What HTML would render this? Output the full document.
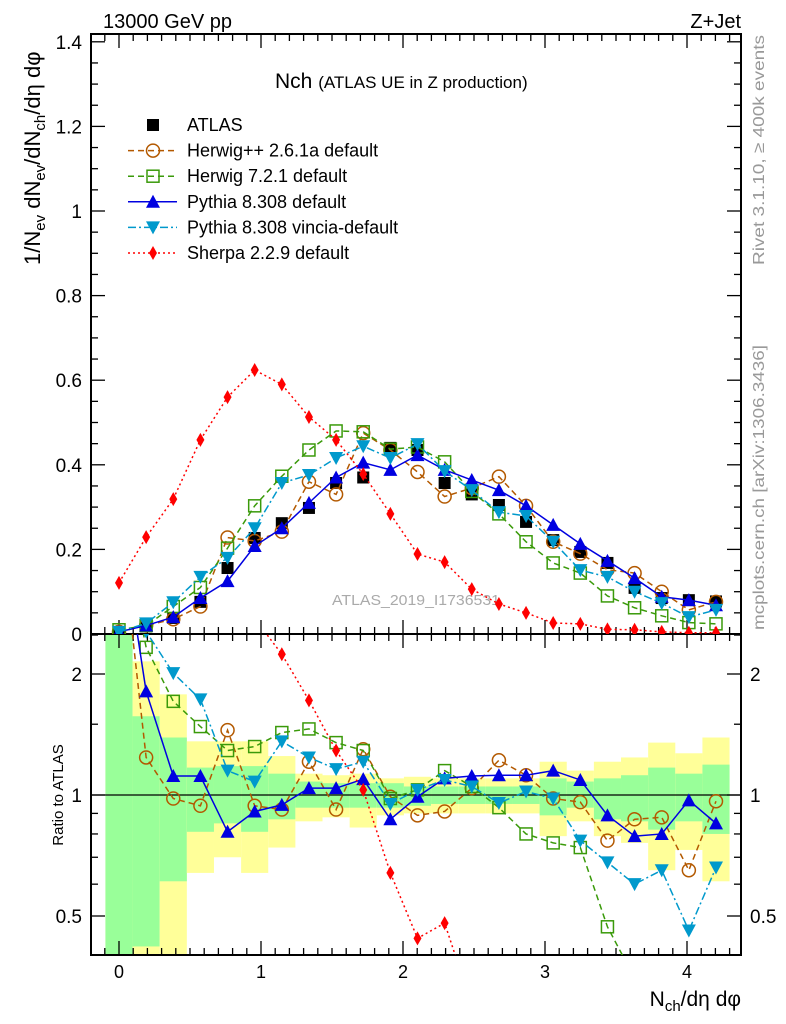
<!DOCTYPE html>
<html><head><meta charset="utf-8"><style>
html,body{margin:0;background:#fff;overflow:hidden;width:786px;height:1024px}
svg{display:block;font-family:"Liberation Sans",sans-serif}
</style></head><body>
<svg id="chart" width="786" height="1024" viewBox="0 0 786 1024">
<text x="103" y="28" font-size="20">13000 GeV pp</text>
<text x="741" y="28" font-size="20" text-anchor="end">Z+Jet</text>
<text x="275" y="88" font-size="21">Nch <tspan font-size="17">(ATLAS UE in Z production)</tspan></text>
<text transform="translate(40,265) rotate(-90)" font-size="22">1/N<tspan font-size="15" dy="5">ev</tspan><tspan dy="-5"> dN</tspan><tspan font-size="15" dy="5">ev</tspan><tspan dy="-5">/dN</tspan><tspan font-size="15" dy="5">ch</tspan><tspan dy="-5">/dη dφ</tspan></text>
<text transform="translate(63,795) rotate(-90)" font-size="15" text-anchor="middle">Ratio to ATLAS</text>
<text transform="translate(764,265) rotate(-90)" font-size="16" fill="#999" textLength="230" lengthAdjust="spacingAndGlyphs">Rivet 3.1.10, ≥ 400k events</text>
<text transform="translate(764,630) rotate(-90)" font-size="16" fill="#999" textLength="285" lengthAdjust="spacingAndGlyphs">mcplots.cern.ch [arXiv:1306.3436]</text>
<text x="332" y="605" font-size="15" fill="#aaa" textLength="168" lengthAdjust="spacingAndGlyphs">ATLAS_2019_I1736531</text>
<text x="741" y="1006" font-size="21" text-anchor="end">N<tspan font-size="15" dy="5">ch</tspan><tspan dy="-5">/dη dφ</tspan></text>
<g id="bands"></g><g id="axes"></g><g id="series"></g><g id="legend"></g>
</svg>
<script>
const atlas=[0.005,0.018,0.038,0.076,0.156,0.227,0.262,0.298,0.357,0.370,0.440,0.435,0.357,0.330,0.305,0.265,0.222,0.194,0.168,0.109,0.085,0.080,0.077];
const herwigpp=[0.005,0.020,0.035,0.065,0.228,0.220,0.242,0.360,0.330,0.475,0.435,0.383,0.325,0.345,0.372,0.303,0.218,0.190,0.152,0.144,0.100,0.057,0.076];
const herwig7=[0.010,0.020,0.065,0.110,0.203,0.303,0.373,0.435,0.480,0.478,0.437,0.442,0.407,0.337,0.284,0.218,0.168,0.144,0.090,0.062,0.043,0.027,0.024];
const pythia=[0.005,0.020,0.040,0.085,0.125,0.208,0.250,0.310,0.370,0.405,0.388,0.423,0.388,0.364,0.340,0.303,0.258,0.213,0.173,0.132,0.088,0.080,0.068];
const vincia=[0.005,0.025,0.075,0.135,0.180,0.250,0.357,0.376,0.416,0.444,0.416,0.449,0.385,0.340,0.288,0.279,0.218,0.151,0.135,0.100,0.073,0.040,0.057];
const sherpa=[0.121,0.229,0.319,0.459,0.560,0.624,0.590,0.513,0.459,0.378,0.284,0.189,0.170,0.106,0.071,0.050,0.026,0.024,0.011,0.010,0.005,0.003,0.003];
const rHerwigpp=[5,1.24,0.98,0.94,1.45,0.94,0.92,1.21,0.92,1.30,0.99,0.89,0.91,1.04,1.22,1.12,0.98,0.96,0.77,0.87,0.88,0.65,0.965];
const rHerwig7=[5,2.33,1.71,1.48,1.29,1.32,1.43,1.46,1.35,1.29,0.98,1.03,1.15,1.05,0.93,0.80,0.76,0.74,0.47,0.35,0.25,0.2,0.15];
const rPythia=[5,1.81,1.115,1.115,0.81,0.91,0.945,1.04,1.04,1.095,0.87,0.99,1.10,1.115,1.12,1.12,1.15,1.09,0.89,0.79,0.80,0.97,0.85];
const rVincia=[5,2.55,2.01,1.73,1.15,1.08,1.36,1.24,1.16,1.21,0.95,1.03,1.09,1.05,0.955,1.02,0.98,0.77,0.68,0.60,0.65,0.46,0.66];
const rSherpa=[24,12,8.4,6,3.6,2.75,2.24,1.72,1.29,1.03,0.64,0.44,0.48,0.3,0.2,0.15,0.1,0.08,0.05,0.05,0.05,0.04,0.04];
const greenLo=[0.38,0.42,0.61,0.81,0.85,0.81,0.87,0.93,0.93,0.93,0.93,0.94,0.95,0.95,0.95,0.95,0.89,0.93,0.87,0.86,0.82,0.86,0.80];
const greenHi=[2.6,1.57,1.39,1.17,1.18,1.18,1.13,1.08,1.07,1.07,1.07,1.05,1.05,1.05,1.05,1.05,1.10,1.08,1.10,1.12,1.17,1.13,1.19];
const yellowLo=[0.38,0.38,0.38,0.64,0.70,0.64,0.74,0.86,0.88,0.83,0.89,0.90,0.90,0.90,0.90,0.90,0.79,0.86,0.79,0.76,0.65,0.73,0.61];
const yellowHi=[2.6,2.15,1.78,1.36,1.36,1.36,1.25,1.13,1.12,1.13,1.10,1.11,1.10,1.10,1.10,1.10,1.21,1.15,1.21,1.24,1.35,1.27,1.39];
const binWidth=0.1911;
const xTicks=[0,1,2,3,4];
const yTicks=[0,0.2,0.4,0.6,0.8,1,1.2,1.4];
const rTicks=[0.5,1,2];

const NS="http://www.w3.org/2000/svg";
const L=91,R=741,T=34,MB=634,RB=955;
const X=v=>119+142*v;
const Y=v=>634-423*v;
const RY=r=>795-121*Math.log2(r);
function mk(tag,attrs,parent){const e=document.createElementNS(NS,tag);for(const k in attrs)e.setAttribute(k,attrs[k]);parent.appendChild(e);return e;}
const gB=document.getElementById('bands'),gA=document.getElementById('axes'),gS=document.getElementById('series'),gL=document.getElementById('legend');

for(let i=0;i<atlas.length;i++){
  const x0=X(i*binWidth-binWidth/2),x1=X(i*binWidth+binWidth/2);
  const clip=v=>Math.max(MB,Math.min(RB,v));
  const y1=clip(RY(yellowHi[i])),y2=clip(RY(yellowLo[i]));
  const yb=mk('rect',{x:x0,y:y1,width:x1-x0,height:y2-y1,fill:'#ffff99'},gB);
  
  
  const g1=clip(RY(greenHi[i])),g2=clip(RY(greenLo[i]));
  const gb=mk('rect',{x:x0,y:g1,width:x1-x0,height:g2-g1,fill:'#99ff99'},gB);
  
  
}
mk('line',{x1:L,x2:R,y1:RY(1),y2:RY(1),stroke:'#000','stroke-width':1.3},gB);

const f1=mk('rect',{x:L,y:T,width:R-L,height:MB-T,fill:'none',stroke:'#000','stroke-width':2},gA);


const f2=mk('rect',{x:L,y:MB,width:R-L,height:RB-MB,fill:'none',stroke:'#000','stroke-width':2},gA);


for(let k=-1;k<=43;k++){
  const v=k/10,px=X(v);if(px<L||px>R)continue;
  const maj=k%10===0,len=maj?14:7;
  [[MB,-1],[T,1],[RB,-1],[MB,1]].forEach(([y,d])=>mk('line',{x1:px,x2:px,y1:y,y2:y+d*len,stroke:'#000','stroke-width':1.3},gA));
}
xTicks.forEach(v=>{const t=mk('text',{x:X(v),y:978,'font-size':18,'text-anchor':'middle'},gA);t.textContent=v;
 });
for(let k=0;k<=28;k++){
  const v=k*0.05,py=Y(v);if(py<T)continue;const maj=k%4===0,len=maj?14:7;
  mk('line',{x1:L,x2:L+len,y1:py,y2:py,stroke:'#000','stroke-width':1.3},gA);
  mk('line',{x1:R,x2:R-len,y1:py,y2:py,stroke:'#000','stroke-width':1.3},gA);
}
yTicks.forEach(v=>{const t=mk('text',{x:82,y:Y(v)+7,'font-size':19,'text-anchor':'end'},gA);t.textContent=v;
 });
[0.4,0.5,0.6,0.7,0.8,0.9,1,1.5,2,2.5].forEach(v=>{const py=RY(v);if(py<MB||py>RB)return;
 const len=(v===0.5||v===1||v===2)?14:7;
 mk('line',{x1:L,x2:L+len,y1:py,y2:py,stroke:'#000','stroke-width':1.3},gA);
 mk('line',{x1:R,x2:R-len,y1:py,y2:py,stroke:'#000','stroke-width':1.3},gA);});
rTicks.forEach(v=>{[[82,'end'],[750,'start']].forEach(([x,a])=>{const t=mk('text',{x:x,y:RY(v)+7,'font-size':19,'text-anchor':a},gA);t.textContent=v;
 });});

function marker(type,cx,cy,color,g){
  if(type==='sq')return mk('rect',{x:cx-6,y:cy-6,width:12,height:12,fill:'#000'},g);
  if(type==='circ')return mk('circle',{cx:cx,cy:cy,r:6.5,fill:'none',stroke:color,'stroke-width':1.5},g);
  if(type==='osq')return mk('rect',{x:cx-6,y:cy-6,width:12,height:12,fill:'none',stroke:color,'stroke-width':1.5},g);
  if(type==='up')return mk('path',{d:`M${cx},${cy-7}L${cx+7},${cy+6}L${cx-7},${cy+6}Z`,fill:color},g);
  if(type==='down')return mk('path',{d:`M${cx},${cy+7}L${cx+7},${cy-6}L${cx-7},${cy-6}Z`,fill:color},g);
  if(type==='dia')return mk('path',{d:`M${cx},${cy-7}L${cx+4},${cy}L${cx},${cy+7}L${cx-4},${cy}Z`,fill:color},g);
}
const series=[
 {name:'herwigpp',data:herwigpp,ratio:rHerwigpp,color:'#b35900',dash:'6,4',m:'circ',label:'Herwig++ 2.6.1a default'},
 {name:'herwig7',data:herwig7,ratio:rHerwig7,color:'#3a9a0a',dash:'6,4',m:'osq',label:'Herwig 7.2.1 default'},
 {name:'pythia',data:pythia,ratio:rPythia,color:'#0000e0',dash:'',m:'up',label:'Pythia 8.308 default'},
 {name:'vincia',data:vincia,ratio:rVincia,color:'#0099cc',dash:'8,3,2,3',m:'down',label:'Pythia 8.308 vincia-default'},
 {name:'sherpa',data:sherpa,ratio:rSherpa,color:'#ff0000',dash:'2,3',m:'dia',label:'Sherpa 2.2.9 default'}
];
const defs=mk('defs',{},gS);
const c1=mk('clipPath',{id:'cm'},defs);mk('rect',{x:L,y:T,width:R-L,height:MB-T},c1);
const c2=mk('clipPath',{id:'cr'},defs);mk('rect',{x:L,y:MB,width:R-L,height:RB-MB},c2);
const gMain=mk('g',{'clip-path':'url(#cm)'},gS),gRat=mk('g',{'clip-path':'url(#cr)'},gS);
atlas.forEach((v,i)=>{const e=marker('sq',X(i*binWidth),Y(v),'#000',gMain);
 });
series.forEach(s=>{
  const pts=s.data.map((v,i)=>`${X(i*binWidth)},${Y(v)}`).join(' ');
  const pl=mk('polyline',{points:pts,fill:'none',stroke:s.color,'stroke-width':1.5,'stroke-dasharray':s.dash},gMain);
  
  s.data.forEach((v,i)=>{const e=marker(s.m,X(i*binWidth),Y(v),s.color,gMain);
   });
  const rp=s.ratio.map((v,i)=>`${X(i*binWidth)},${RY(v)}`).join(' ');
  const rl=mk('polyline',{points:rp,fill:'none',stroke:s.color,'stroke-width':1.5,'stroke-dasharray':s.dash},gRat);
  
  s.ratio.forEach((v,i)=>{const e=marker(s.m,X(i*binWidth),RY(v),s.color,gRat);
   });
});
const rows=[{label:'ATLAS',m:'sq',color:'#000',dash:null}].concat(series);
rows.forEach((s,i)=>{const y=125+25.6*i;
  const g=mk('g',{},gL);
  
  if(s.dash!==null)mk('line',{x1:128,x2:177,y1:y,y2:y,stroke:s.color,'stroke-width':1.5,'stroke-dasharray':s.dash},g);
  marker(s.m,153,y,s.color,g);
  const t=mk('text',{x:187,y:y+6,'font-size':18},g);t.textContent=s.label;});
</script>
</body></html>
